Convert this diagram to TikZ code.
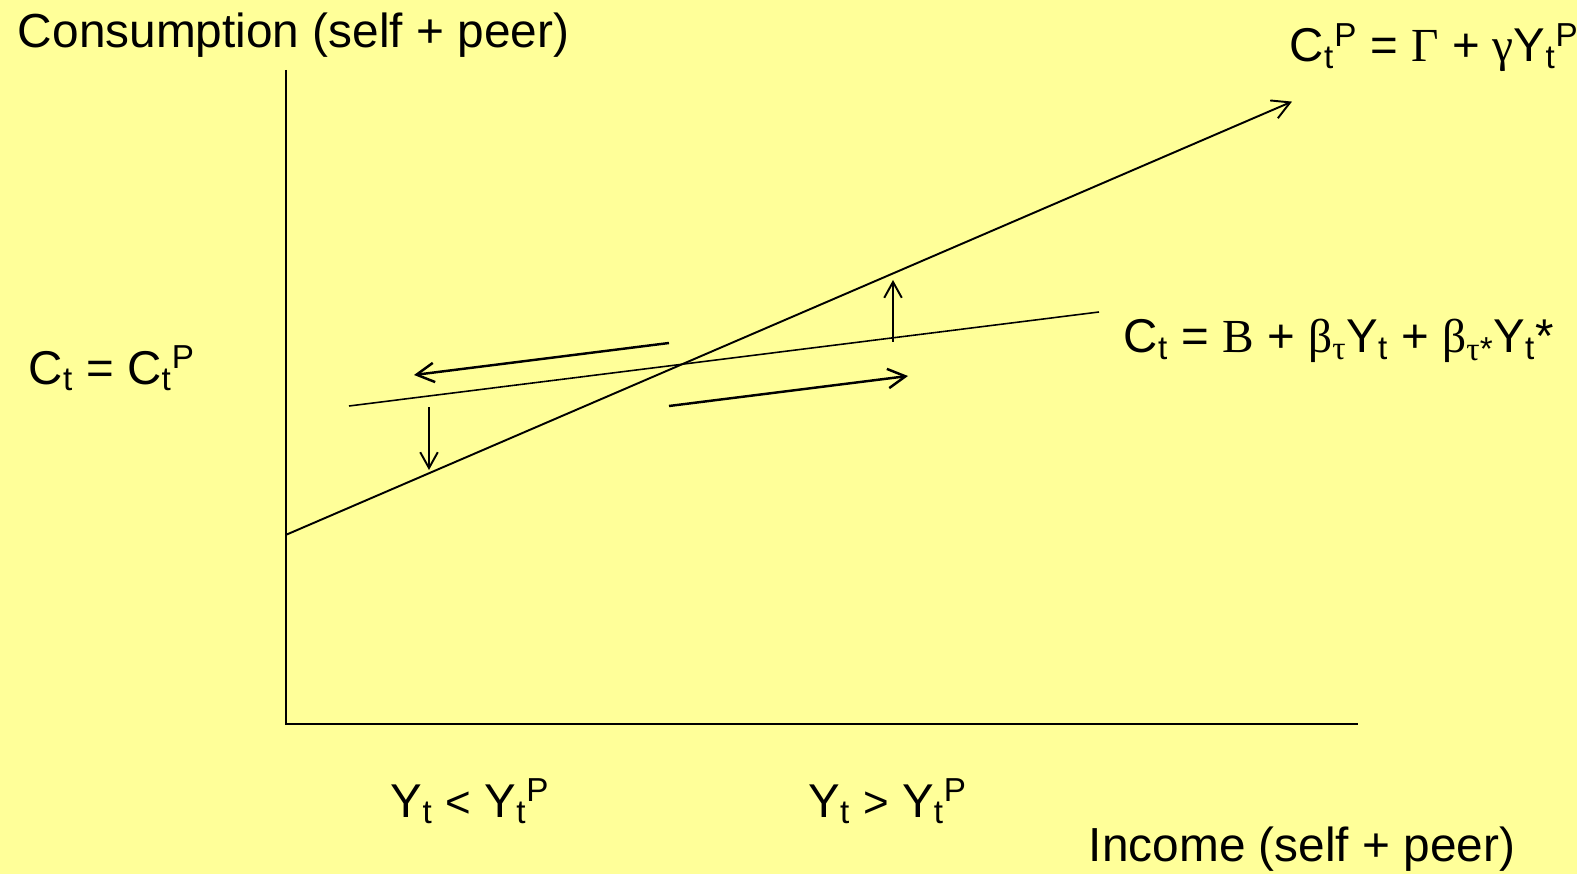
\documentclass[tikz,border=0pt]{standalone}
\usepackage{fontspec}
\setmainfont{Liberation Sans}
\newfontfamily\gkfont{Liberation Serif}
\usetikzlibrary{arrows.meta}
\definecolor{slidebg}{HTML}{FFFF99}
\newcommand{\lo}[1]{\textsubscript{#1}}
\newcommand{\hi}[1]{\textsuperscript{#1}}
\newcommand{\gk}[1]{{\gkfont #1}}

\begin{document}
\begin{tikzpicture}[x=0.02cm,y=-0.02cm,line width=1.1pt,
  lbl/.style={anchor=base west,inner sep=0pt,font=\fontsize{27.2}{32}\selectfont},
  eq/.style={anchor=base west,inner sep=0pt,font=\fontsize{27}{32}\selectfont},
  moveline/.style={line width=1.4pt,-{Straight Barb[length=10pt,width=11pt]}},
  jump/.style={-{Straight Barb[length=9pt,width=10pt]}}]
\fill[slidebg] (0,0) rectangle (1577,874);
\useasboundingbox (0,0) rectangle (1577,874);
% axes
\coordinate (O) at (285.6,724);
\coordinate (ytop) at (285.6,70);
\coordinate (xend) at (1358,724);
\draw (ytop) -- (O) -- (xend);
% the two lines
\coordinate (gstart) at (285.6,535);
\coordinate (gend) at (1292,101.6);
\coordinate (bstart) at (349,406);
\coordinate (bend) at (1099,312);
\draw[-{Straight Barb[length=10pt,width=11pt]}] (gstart) -- (gend);
\draw[line width=0.9pt] (bstart) -- (bend);
% shifts of the short-run line
\coordinate (l1) at (669,343);
\coordinate (l2) at (414,375);
\coordinate (r1) at (669,406);
\coordinate (r2) at (908,376);
\draw[moveline] (l1) -- (l2);
\draw[moveline] (r1) -- (r2);
\coordinate (d1) at (429,407);
\coordinate (d2) at (429,470);
\coordinate (u1) at (893,342);
\coordinate (u2) at (893,280);
\draw[jump] (d1) -- (d2);
\draw[jump] (u1) -- (u2);
% labels
\node[lbl] (ylab) at (17,47.3) {Consumption (self + peer)};
\node[lbl] (xlab) at (1088,861) {Income (self + peer)};
\node[eq] (eqP) at (1289,62) {C\lo{t}\hi{P} = \gk{Γ} + \gk{γ}Y\lo{t}\hi{P}};
\node[eq] (eqB) at (1123,353) {C\lo{t} = \gk{B} + \gk{β}\lo{\gk{τ}}Y\lo{t} + \gk{β}\lo{\gk{τ}*}Y\lo{t}*};
\node[eq] (eqeq) at (28,384) {C\lo{t} = C\lo{t}\hi{P}};
\node[eq] (lowinc) at (390,817) {Y\lo{t} {\fontsize{25}{30}\selectfont<} Y\lo{t}\hi{P}};
\node[eq] (highinc) at (807.5,817) {Y\lo{t} {\fontsize{25}{30}\selectfont>} Y\lo{t}\hi{P}};
\end{tikzpicture}
\end{document}
